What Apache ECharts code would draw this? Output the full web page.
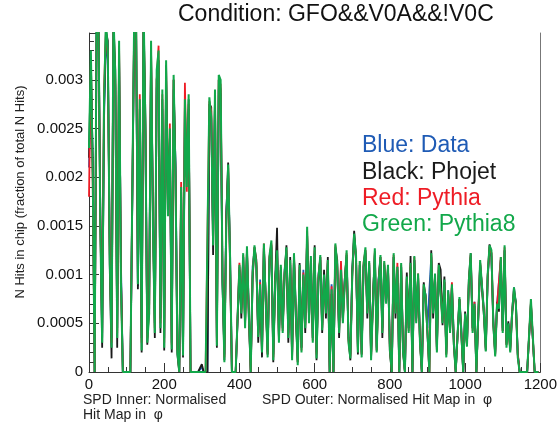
<!DOCTYPE html>
<html>
<head>
<meta charset="utf-8">
<script src="https://cdn.jsdelivr.net/npm/echarts@6/dist/echarts.min.js"></script>
<style>
html,body{margin:0;padding:0;background:#fff;}
#chart{width:560px;height:431px;}
</style>
</head>
<body>
<div id="chart"></div>
<script>
// Values in units of 1e-5 (fraction of total N hits), one value per 5-chip step
const unit = 1e-5;
const binStep = 5;

const green = [
230,330,200,0,360,370,150,30,280,360,
330,120,25,370,300,35,340,90,0,0,
0,0,0,0,360,380,90,280,22,380,
250,30,60,340,150,40,310,330,45,290,
25,320,160,250,23,305,200,20,0,190,
17,280,190,285,0,0,0,0,0,0,
0,0,0,0,282,262,130,290,27,305,
300,95,10,150,213,120,0,0,0,0,
110,60,122,45,129,60,0,100,130,110,
36,90,20,132,70,15,120,135,12,90,
125,30,110,40,100,128,35,115,12,122,
60,7,110,20,100,45,149,50,119,30,
128,14,95,120,43,100,60,115,0,85,
0,132,110,40,105,50,90,125,30,14,
100,142,120,20,114,15,110,128,60,114,
12,70,127,20,90,120,40,114,70,110,
23,0,122,60,108,0,112,20,0,98,
40,112,0,119,50,101,30,0,90,77,
40,0,122,60,101,20,110,108,50,95,
15,84,40,90,30,0,0,77,40,0,
60,26,94,122,40,70,0,0,115,113,
60,21,100,130,125,50,16,70,65,118,
40,130,25,50,20,60,87,70,15,0,
0,0,0,0,0,75,73,0,0,0
];

const black = [
220,320,210,0,350,380,160,25,270,350,
340,110,14,360,310,25,330,100,0,0,
0,0,0,0,350,370,85,270,20,370,
260,28,70,330,160,35,300,320,40,280,
22,315,170,240,20,300,210,18,0,185,
15,275,200,280,0,0,0,0,0,0,
8,0,0,0,275,272,120,285,25,300,
290,90,12,160,215,110,0,0,0,0,
105,55,118,50,125,55,0,95,128,115,
30,85,15,128,75,18,118,130,10,95,
148,35,105,45,98,130,30,118,15,118,
55,10,112,25,98,40,140,55,115,35,
130,12,92,118,40,105,55,118,0,80,
0,128,115,35,100,55,95,120,35,12,
105,145,118,18,110,18,108,125,55,112,
15,75,122,22,95,118,35,110,75,108,
20,0,118,55,105,0,108,22,0,102,
45,119,0,115,55,98,32,0,92,75,
38,0,125,55,98,22,112,105,48,98,
18,80,42,88,28,0,0,75,38,0,
62,28,95,122,45,68,0,0,112,110,
58,22,98,131,122,48,18,72,62,115,
42,125,28,52,22,58,82,72,18,0,
0,0,0,0,0,70,70,0,0,0
];

const red = [
180,320,190,0,340,365,160,40,290,350,
325,130,30,360,295,40,335,95,0,0,
0,0,0,0,355,370,95,285,30,370,
245,35,65,330,160,45,300,335,50,285,
30,310,165,255,28,300,195,25,0,195,
20,297,185,275,0,0,0,0,0,0,
0,0,0,0,278,268,135,280,30,300,
295,100,15,155,210,115,0,0,0,0,
112,62,120,48,126,62,0,102,128,112,
38,92,22,132,72,18,118,132,15,92,
122,32,108,42,102,125,38,112,15,120,
62,10,108,22,102,48,145,52,115,32,
125,18,98,118,45,98,62,114,0,88,
0,130,108,42,114,52,92,122,32,16,
98,138,118,22,114,18,112,125,62,112,
15,72,124,22,92,118,42,112,72,108,
25,0,120,62,112,0,110,22,0,96,
42,110,0,118,52,101,32,0,88,78,
42,0,120,62,100,22,108,110,52,92,
18,82,42,92,32,0,0,75,42,0,
58,28,92,120,42,72,0,0,112,112,
62,24,98,128,122,52,18,68,68,118,
42,128,28,48,22,62,85,68,18,0,
0,0,0,0,0,72,72,0,0,0
];

const blue = [
210,300,220,0,345,360,170,35,260,340,
320,140,35,350,290,45,320,110,0,0,
0,0,0,0,345,360,88,260,35,360,
240,40,88,320,170,50,290,320,55,270,
35,300,175,240,30,290,215,28,0,180,
22,270,200,270,0,0,0,0,0,0,
5,0,0,0,270,260,140,275,35,290,
285,93,18,165,205,125,0,0,0,0,
108,65,118,52,122,65,0,108,125,108,
40,95,25,128,75,20,115,128,18,95,
120,35,105,48,105,122,40,110,18,118,
65,12,105,25,105,50,140,55,112,35,
122,20,100,115,48,102,65,112,0,90,
0,126,105,45,110,55,95,118,35,18,
102,138,115,25,110,20,108,122,65,110,
18,75,120,25,95,115,45,110,75,105,
28,0,118,65,108,0,108,25,0,95,
45,108,0,115,55,98,35,0,85,80,
45,84,118,65,98,25,105,106,55,92,
20,84,45,88,35,0,0,74,45,0,
60,30,90,118,45,72,0,0,110,110,
65,25,95,125,118,55,20,70,70,115,
45,125,30,50,25,62,87,70,20,0,
0,0,0,0,0,70,70,0,0,0
];

const seriesNames = ['Data', 'Phojet', 'Pythia', 'Pythia8'];
const legendLines = ['Blue: Data', 'Black: Phojet', 'Red: Pythia', 'Green: Pythia8'];
const xTicks = [0, 200, 400, 600, 800, 1000, 1200];
const yTicks = [0, 0.0005, 0.001, 0.0015, 0.002, 0.0025, 0.003];
const titleText = 'Condition: GFO&&V0A&&!V0C';
const yTitle = 'N Hits in chip (fraction of total N Hits)';
const innerCaption = ['SPD Inner: Normalised', 'Hit Map in  \u03c6'];
const outerCaption = 'SPD Outer: Normalised Hit Map in  \u03c6';

const colors = ['#1f5bb5', '#1a1a1a', '#ee1c25', '#12a84a'];
const FONT = '"Liberation Sans", Arial, Helvetica, sans-serif';

function toPairs(arr) {
  return arr.map((v, i) => [i * binStep, v * unit]);
}

const chart = echarts.init(document.getElementById('chart'), null, {renderer: 'canvas'});
const axisColor = '#333';

const option = {
  animation: false,
  backgroundColor: '#fff',
  grid: {left: 89, right: 19, top: 33, bottom: 59, show: false},
  xAxis: {
    type: 'value', min: 0, max: 1200, interval: 200,
    axisLine: {show: true, onZero: false, lineStyle: {color: axisColor, width: 1}},
    axisTick: {show: true, inside: true, length: 9, lineStyle: {color: axisColor}},
    minorTick: {show: true, splitNumber: 4, length: 5, lineStyle: {color: axisColor}},
    splitLine: {show: false},
    axisLabel: {color: '#111', fontSize: 15, fontFamily: FONT, margin: 5,
      formatter: v => xTicks.includes(v) ? String(v) : ''}
  },
  yAxis: [{
    type: 'value', min: 0, max: 0.00348, interval: 0.0005,
    axisLine: {show: true, lineStyle: {color: axisColor, width: 1}},
    axisTick: {show: true, inside: true, length: 10, lineStyle: {color: axisColor}},
    minorTick: {show: true, splitNumber: 5, length: 5, lineStyle: {color: axisColor}},
    splitLine: {show: false},
    axisLabel: {color: '#111', fontSize: 15, fontFamily: FONT, margin: 6, showMaxLabel: false,
      formatter: v => {
        const r = +v.toFixed(4);
        return yTicks.some(t => Math.abs(t - r) < 1e-9) ? String(r) : '';
      }}
  }, {
    type: 'value', min: 0, max: 1, position: 'right',
    axisLine: {show: true, lineStyle: {color: '#777', width: 1}},
    axisTick: {show: false}, axisLabel: {show: false}, splitLine: {show: false}
  }],
  series: [blue, black, red, green].map((arr, k) => ({
    name: seriesNames[k],
    type: 'line',
    yAxisIndex: 0,
    data: toPairs(arr),
    showSymbol: false,
    symbol: 'none',
    clip: true,
    lineStyle: {color: colors[k], width: k === 3 ? 2 : 1.8},
    z: 2 + k
  })),
  graphic: [
    {type: 'text', left: 178, top: 3, style: {text: titleText, font: '23px ' + FONT, fill: '#111'}},
    {type: 'text', x: 20, y: 192, rotation: Math.PI / 2,
      style: {text: yTitle, font: '13px ' + FONT, fill: '#222', align: 'center', verticalAlign: 'middle'}},
    ...legendLines.map((t, k) => ({
      type: 'text', x: 362, y: 146 + k * 26.3,
      style: {text: t, font: '23px ' + FONT, fill: colors[k], verticalAlign: 'middle'}
    })),
    {type: 'text', x: 83, y: 400, style: {text: innerCaption[0], font: '14px ' + FONT, fill: '#222', verticalAlign: 'middle'}},
    {type: 'text', x: 83, y: 415, style: {text: innerCaption[1], font: '14px ' + FONT, fill: '#222', verticalAlign: 'middle'}},
    {type: 'text', x: 262, y: 400, style: {text: outerCaption, font: '14px ' + FONT, fill: '#222', verticalAlign: 'middle'}}
  ]
};
chart.setOption(option);
</script>
</body>
</html>
